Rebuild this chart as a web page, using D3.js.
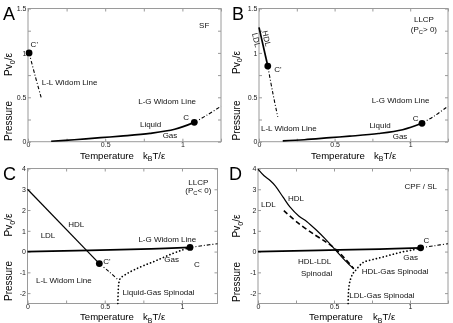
<!DOCTYPE html>
<html>
<head>
<meta charset="utf-8">
<script src="https://cdn.jsdelivr.net/npm/d3@7"></script>
<style>
    body { margin: 0; background: #fff; }
    svg { display: block; font-family: "Liberation Sans", Arial, sans-serif; will-change: transform; }
</style>
</head>
<body>
<svg id="chart" width="453" height="323"></svg>
<script>
// ---- data (T = kBT/eps, P = Pv0/eps) ----

// Panel A : singularity free
const coexA = [[0.15, 0.005], [0.3, 0.022], [0.47, 0.045], [0.6, 0.063], [0.79, 0.094], [0.95, 0.14], [1.077, 0.218]];
const widomLGA = [[1.077, 0.218], [1.16, 0.3], [1.25, 0.4]];
const widomLLA = [[0.007, 1.0], [0.045, 0.75], [0.085, 0.5]];
const pointsA = [[1.077, 0.218], [0.007, 1.0]];
const labelsA = [
    [1.108, 1.28, "SF"], [0.017, 1.066, "C'"], [0.089, 0.638, "L-L Widom Line"],
    [0.714, 0.43, "L-G Widom Line"], [0.725, 0.169, "Liquid"], [0.872, 0.038, "Gas"], [1.006, 0.244, "C"]
];

// Panel B : LLCP at positive pressure
const coexB = [[0.157, 0.01], [0.3, 0.022], [0.47, 0.045], [0.6, 0.062], [0.79, 0.092], [0.95, 0.135], [1.078, 0.207]];
const widomLGB = [[1.078, 0.207], [1.16, 0.29], [1.25, 0.4]];
const llCoexB = [[0, 1.288], [0.058, 0.852]];
const widomLLB = [[0.058, 0.852], [0.09, 0.56], [0.124, 0.28]];
const pointsB = [[1.078, 0.207], [0.058, 0.852]];
const labelsB = [
    [1.091, 1.348, "LLCP", "middle"], [1.091, 1.235, "(P_{C}> 0)", "middle"],
    [0.101, 0.788, "C'"], [0.013, 0.124, "L-L Widom Line"], [0.745, 0.44, "L-G Widom Line"],
    [0.73, 0.158, "Liquid"], [0.884, 0.03, "Gas"], [1.017, 0.236, "C"],
    [0.05, 1.162, "HDL", "middle", 77], [-0.017, 1.145, "LDL", "middle", 77]
];

// Panel C : LLCP at negative pressure
const coexC = [[0, 0], [0.4, 0.06], [0.8, 0.13], [1.052, 0.2]];
const llCoexC = [[0, 3], [0.465, -0.58]];
const widomLLC = [[0.465, -0.58], [0.53, -0.98], [0.588, -1.37]];
const spinC = [[0.585, -2.5], [0.587, -2.0], [0.59, -1.6], [0.6, -1.3], [0.64, -1.08], [0.69, -0.88], [0.75, -0.68],
    [0.815, -0.49], [0.88, -0.28], [0.944, -0.08], [1.0, 0.07], [1.052, 0.2]];
const widomLGC = [[1.052, 0.2], [1.14, 0.29], [1.23, 0.38]];
const pointsC = [[1.052, 0.2], [0.465, -0.58]];
const labelsC = [
    [1.106, 3.21, "LLCP", "middle"], [1.106, 2.82, "(P_{C}< 0)", "middle"],
    [0.264, 1.18, "HDL"], [0.085, 0.64, "LDL"], [0.718, 0.46, "L-G Widom Line"],
    [0.885, -0.5, "Gas"], [1.078, -0.72, "C"], [0.49, -0.58, "C'"],
    [0.055, -1.51, "L-L Widom Line"], [0.615, -2.11, "Liquid-Gas Spinodal"]
];

// Panel D : critical point free / stability limit
const coexD = [[0, 0], [0.4, 0.06], [0.8, 0.12], [1.07, 0.18]];
const hdlD = [[0, 3.97], [0.04, 3.65], [0.08, 3.42], [0.115, 3.15], [0.165, 2.62], [0.21, 2.15], [0.27, 1.7],
    [0.32, 1.45], [0.38, 1.06], [0.45, 0.55], [0.515, 0.03], [0.575, -0.45], [0.63, -0.83]];
const dashD = [[0.17, 1.97], [0.265, 1.37], [0.375, 0.8], [0.46, 0.4], [0.52, 0.05], [0.58, -0.4], [0.63, -0.83]];
const spinD = [[0.593, -2.5], [0.595, -2.0], [0.6, -1.6], [0.61, -1.3], [0.625, -1.05], [0.637, -0.95],
    [0.691, -0.53], [0.757, -0.38], [0.823, -0.26], [0.888, -0.13], [0.954, -0.01], [1.02, 0.08], [1.07, 0.18]];
const widomLGD = [[1.07, 0.18], [1.16, 0.28], [1.25, 0.38]];
const pointsD = [[1.07, 0.18]];
const labelsD = [
    [1.071, 3.01, "CPF / SL", "middle"], [0.197, 2.44, "HDL"], [0.02, 2.15, "LDL"],
    [1.088, 0.4, "C"], [0.956, -0.41, "Gas"], [0.263, -0.6, "HDL-LDL"], [0.283, -1.18, "Spinodal"],
    [0.682, -1.08, "HDL-Gas Spinodal"], [0.6, -2.22, "LDL-Gas Spinodal"]
];

// axis ticks
const tTicks = [0, 0.25, 0.5, 0.75, 1, 1.25];
const tLabels = [0, 0.5, 1];
const pTicksTop = [0, 0.25, 0.5, 0.75, 1, 1.25, 1.5];
const pLabelsTop = [0, 0.5, 1, 1.5];
const pTicksBottom = [-2, -1, 0, 1, 2, 3, 4];

// ---- line styles ----
const SOLID = {dash: null, width: 1.7, cap: "butt"};
const THIN = {dash: null, width: 1.2, cap: "butt"};
const DASHDOT = {dash: "3.5,2,1,2", width: 1.1, cap: "butt"};
const DOTTED = {dash: "0.1,3.4", width: 1.7, cap: "round"};
const DASHED = {dash: "5,3", width: 1.6, cap: "butt"};

const panels = [
    {
        letter: "A", left: 28, right: 221, top: 8.5, bottom: 141.7, tMax: 1.25, pDomain: [0, 1.5],
        pTicks: pTicksTop, pLabels: pLabelsTop,
        lines: [[coexA, SOLID], [widomLGA, DASHDOT], [widomLLA, DASHDOT]],
        points: pointsA, labels: labelsA,
        letterPos: [3, 19.5], presX: 12, presY: 141, pvY: 76, tempY: 158.5, tempX: 80, kbtX: 143
    },
    {
        letter: "B", left: 259, right: 448, top: 8.5, bottom: 141.7, tMax: 1.25, pDomain: [0, 1.5],
        pTicks: pTicksTop, pLabels: pLabelsTop,
        lines: [[coexB, SOLID], [widomLGB, DASHDOT], [llCoexB, SOLID], [widomLLB, DASHDOT]],
        points: pointsB, labels: labelsB,
        letterPos: [232, 19.5], presX: 239.5, presY: 140.5, pvY: 74, tempY: 158.5, tempX: 311, kbtX: 374
    },
    {
        letter: "C", left: 27.5, right: 217.5, top: 168.5, bottom: 303.5, tMax: 1.23, pDomain: [-2.5, 4],
        pTicks: pTicksBottom, pLabels: pTicksBottom,
        lines: [[coexC, SOLID], [llCoexC, THIN], [widomLLC, DASHDOT], [spinC, DOTTED], [widomLGC, DASHDOT]],
        points: pointsC, labels: labelsC,
        letterPos: [3, 180], presX: 12, presY: 301, pvY: 236.5, tempY: 320, tempX: 80, kbtX: 143
    },
    {
        letter: "D", left: 258, right: 448, top: 168.5, bottom: 303.5, tMax: 1.25, pDomain: [-2.5, 4],
        pTicks: pTicksBottom, pLabels: pTicksBottom,
        lines: [[coexD, SOLID], [hdlD, THIN], [dashD, DASHED], [spinD, DOTTED], [widomLGD, DASHDOT]],
        points: pointsD, labels: labelsD,
        letterPos: [229, 180], presX: 240, presY: 302, pvY: 237.5, tempY: 320, tempX: 309, kbtX: 373
    }
];

const svg = d3.select("#chart");

// text with _{..} subscripts
function richText(sel, str, size) {
    let shifted = false;
    str.split(/(_\{[^}]*\})/).forEach(s => {
        if (!s) return;
        if (s.startsWith("_{")) {
            sel.append("tspan").attr("font-size", size * 0.72).attr("dy", size * 0.28).text(s.slice(2, -1));
            shifted = true;
        } else {
            const t = sel.append("tspan").text(s);
            if (shifted) { t.attr("dy", -size * 0.28); shifted = false; }
        }
    });
}

function drawPanel(p) {
    const x = d3.scaleLinear().domain([0, p.tMax]).range([p.left, p.right]);
    const y = d3.scaleLinear().domain(p.pDomain).range([p.bottom, p.top]);
    const g = svg.append("g");

    const tk = tTicks.filter(t => t <= p.tMax + 1e-9);
    const fmtT = d => tLabels.includes(d) ? String(d) : "";
    const fmtP = d => p.pLabels.includes(d) ? String(d) : "";

    const axes = [
        [d3.axisBottom(x).tickValues(tk).tickFormat(fmtT).tickSize(-3).tickPadding(0.8), p.bottom, 0],
        [d3.axisTop(x).tickValues(tk).tickFormat("").tickSize(-3), p.top, 0],
        [d3.axisLeft(y).tickValues(p.pTicks).tickFormat(fmtP).tickSize(-3).tickPadding(1.5), 0, p.left],
        [d3.axisRight(y).tickValues(p.pTicks).tickFormat("").tickSize(-3), 0, p.right]
    ];
    axes.forEach(([ax, ty, tx]) => {
        const a = g.append("g").attr("transform", `translate(${tx},${ty})`).call(ax);
        a.select(".domain").remove();
        a.selectAll("line").attr("stroke", "#9a9a9a");
        a.selectAll("text").attr("font-size", 7).attr("fill", "#222")
            .attr("font-family", "'Liberation Sans', Arial, sans-serif");
    });

    // frame
    g.append("rect")
        .attr("x", p.left).attr("y", p.top)
        .attr("width", p.right - p.left).attr("height", p.bottom - p.top)
        .attr("fill", "none").attr("stroke", "#9a9a9a").attr("stroke-width", 1);

    const line = d3.line().x(d => x(d[0])).y(d => y(d[1])).curve(d3.curveCatmullRom.alpha(0.5));
    p.lines.forEach(([data, st]) => {
        g.append("path")
            .attr("d", line(data))
            .attr("fill", "none")
            .attr("stroke", "#000")
            .attr("stroke-width", st.width)
            .attr("stroke-linecap", st.cap)
            .attr("stroke-dasharray", st.dash);
    });

    g.selectAll("circle.cp")
        .data(p.points)
        .enter()
        .append("circle")
        .attr("class", "cp")
        .attr("cx", d => x(d[0]))
        .attr("cy", d => y(d[1]))
        .attr("r", 3.4)
        .attr("fill", "#000");

    p.labels.forEach(([t, pr, txt, anchor, rot]) => {
        const px = x(t), py = y(pr);
        const el = g.append("text")
            .attr("x", px).attr("y", py)
            .attr("font-size", 8)
            .attr("fill", "#111")
            .attr("text-anchor", anchor || "start");
        if (rot) el.attr("transform", `rotate(${rot},${px},${py})`).attr("dy", "0.35em");
        richText(el, txt, 8);
    });

    // panel letter
    g.append("text")
        .attr("x", p.letterPos[0]).attr("y", p.letterPos[1])
        .attr("font-size", 18)
        .text(p.letter);

    // axis titles
    g.append("text")
        .attr("transform", `translate(${p.presX},${p.presY}) rotate(-90)`)
        .attr("font-size", 10)
        .text("Pressure");
    const pv = g.append("text")
        .attr("transform", `translate(${p.presX},${p.pvY}) rotate(-90)`)
        .attr("font-size", 10);
    richText(pv, "Pv_{0}/ε", 10);

    g.append("text")
        .attr("x", p.tempX).attr("y", p.tempY)
        .attr("font-size", 9.6)
        .text("Temperature");
    const kbt = g.append("text")
        .attr("x", p.kbtX).attr("y", p.tempY)
        .attr("font-size", 9.6);
    richText(kbt, "k_{B}T/ε", 9.6);
}

panels.forEach(drawPanel);
</script>
</body>
</html>
